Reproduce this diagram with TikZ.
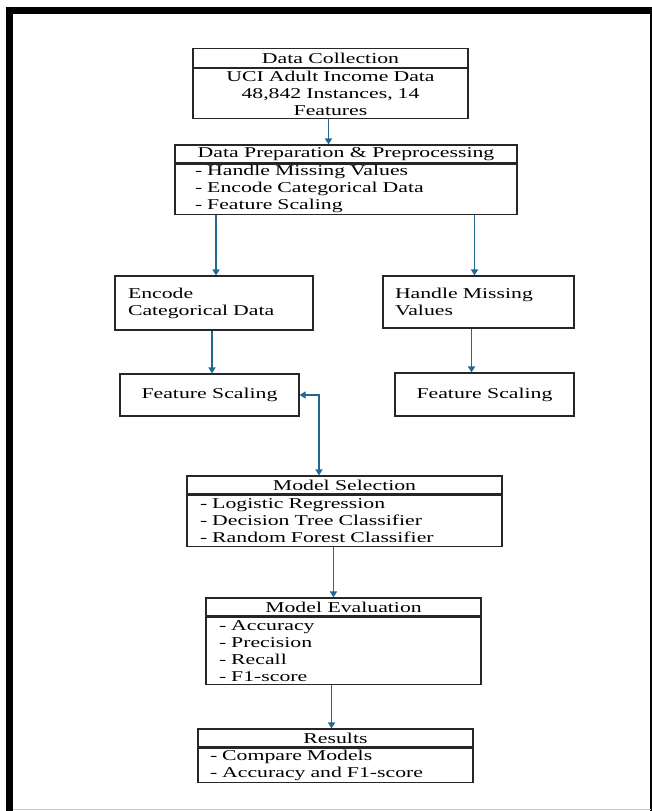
\documentclass[tikz,border=0pt]{standalone}
\usepackage{fontspec}
\setmainfont{Liberation Serif}[FakeStretch=1.45]
\usetikzlibrary{arrows.meta}
\definecolor{arrowblue}{RGB}{33,104,145}

\begin{document}
\begin{tikzpicture}[x=1pt, y=-1pt,
        box/.style={draw=black!85, line width=1.2pt, inner sep=0pt, font=\fontsize{15}{17}\selectfont},
        flow/.style={arrowblue, line width=1.5pt, -{Triangle[width=7pt,length=6pt]}}]
        \useasboundingbox (0,0) rectangle (652,811);

        % frame
        \fill[black] (6,7) rectangle (652,14);
        \fill[black] (6,7) rectangle (13,811);
        \draw[black, line width=2pt] (651,14) -- (651,811);
        \draw[gray!40, line width=1pt] (13,809.5) -- (651,809.5);

        \node[box, minimum width=275pt, minimum height=19pt] (dchead) at (330.5,58) {Data Collection};
        \node[box, anchor=north, minimum width=275pt, minimum height=50pt, text width=255pt, align=center] (dcbody) at (dchead.south) {UCI Adult Income Data\\48,842 Instances, 14\\Features};

        \node[box, minimum width=342pt, minimum height=18pt] (prephead) at (346,154) {Data Preparation \& Preprocessing};
        \node[box, anchor=north, minimum width=342pt, minimum height=50pt, inner xsep=20pt, text width=302pt, align=left] (prepbody) at (prephead.south) {- Handle Missing Values\\- Encode Categorical Data\\- Feature Scaling};

        \node[box, minimum width=198pt, minimum height=54pt, inner xsep=13pt, text width=172pt, align=left] (enc) at (214,303) {Encode\\Categorical Data};
        \node[box, minimum width=191pt, minimum height=52pt, inner xsep=12pt, text width=167pt, align=left] (hmv) at (478.5,302) {Handle Missing\\Values};

        \node[box, minimum width=179pt, minimum height=42pt] (fsl) at (209.5,395) {Feature Scaling};
        \node[box, minimum width=179pt, minimum height=43pt] (fsr) at (484.5,394.5) {Feature Scaling};

        \node[box, minimum width=315pt, minimum height=18pt] (mshead) at (344.5,485) {Model Selection};
        \node[box, anchor=north, minimum width=315pt, minimum height=51pt, inner xsep=13pt, text width=289pt, align=left] (msbody) at (mshead.south) {- Logistic Regression\\- Decision Tree Classifier\\- Random Forest Classifier};

        \node[box, minimum width=275pt, minimum height=18pt] (mehead) at (343.5,607) {Model Evaluation};
        \node[box, anchor=north, minimum width=275pt, minimum height=67pt, inner xsep=13pt, text width=249pt, align=left] (mebody) at (mehead.south) {- Accuracy\\- Precision\\- Recall\\- F1-score};

        \node[box, minimum width=275pt, minimum height=18pt] (reshead) at (335.5,738) {Results};
        \node[box, anchor=north, minimum width=275pt, minimum height=34pt, inner xsep=12pt, text width=251pt, align=left] (resbody) at (reshead.south) {- Compare Models\\- Accuracy and F1-score};

        \coordinate (turn) at (319,395);

        \draw[flow] ([xshift=-2pt]dcbody.south) -- ([xshift=-2pt]dcbody.south |- prephead.north);
        \draw[flow] ([xshift=2pt]prepbody.south -| enc.north) -- ([xshift=2pt]enc.north);
        \draw[flow] ([xshift=-4pt]prepbody.south -| hmv.north) -- ([xshift=-4pt]hmv.north);
        \draw[flow] ([xshift=-2pt]enc.south) -- ([xshift=-2pt]enc.south |- fsl.north);
        \draw[flow] ([xshift=-7pt]hmv.south) -- ([xshift=-7pt]hmv.south |- fsr.north);
        \draw[flow, {Triangle[width=7pt,length=6pt]}-{Triangle[width=7pt,length=6pt]}] (fsl.east) -- (turn) -- (turn |- mshead.north);
        \draw[flow] ([xshift=-11pt]msbody.south) -- ([xshift=-11pt]msbody.south |- mehead.north);
        \draw[flow] ([xshift=-12pt]mebody.south) -- ([xshift=-12pt]mebody.south |- reshead.north);
    \end{tikzpicture}
\end{document}
